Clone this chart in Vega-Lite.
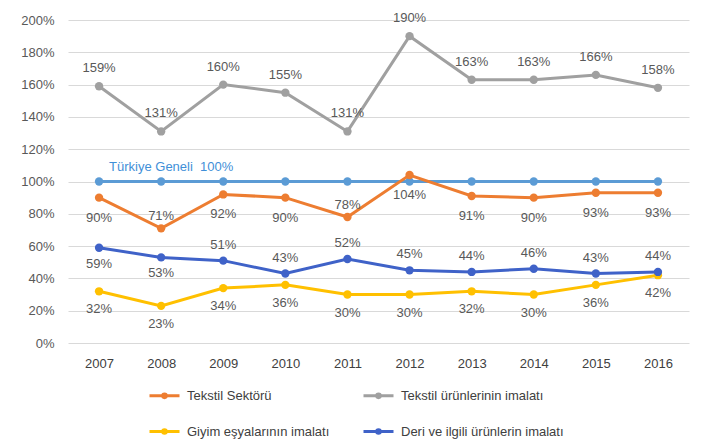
{
  "$schema": "https://vega.github.io/schema/vega-lite/v6.json",
  "width": 621,
  "height": 323,
  "padding": {"left": 20, "top": 12, "right": 10, "bottom": 5},
  "background": "white",
  "config": {
    "view": {"stroke": null},
    "font": "Liberation Sans",
    "axis": {"domain": false, "ticks": false, "labelColor": "#595959", "labelFontSize": 13, "gridColor": "#d9d9d9", "title": null},
    "text": {"font": "Liberation Sans", "fontSize": 13, "fill": "#595959"}
  },
  "datasets": {
    "series": [
      {"s": "Tekstil Sektörü", "year": "2007", "v": 90},
      {"s": "Tekstil Sektörü", "year": "2008", "v": 71},
      {"s": "Tekstil Sektörü", "year": "2009", "v": 92},
      {"s": "Tekstil Sektörü", "year": "2010", "v": 90},
      {"s": "Tekstil Sektörü", "year": "2011", "v": 78},
      {"s": "Tekstil Sektörü", "year": "2012", "v": 104},
      {"s": "Tekstil Sektörü", "year": "2013", "v": 91},
      {"s": "Tekstil Sektörü", "year": "2014", "v": 90},
      {"s": "Tekstil Sektörü", "year": "2015", "v": 93},
      {"s": "Tekstil Sektörü", "year": "2016", "v": 93},
      {"s": "Tekstil ürünlerinin imalatı", "year": "2007", "v": 159},
      {"s": "Tekstil ürünlerinin imalatı", "year": "2008", "v": 131},
      {"s": "Tekstil ürünlerinin imalatı", "year": "2009", "v": 160},
      {"s": "Tekstil ürünlerinin imalatı", "year": "2010", "v": 155},
      {"s": "Tekstil ürünlerinin imalatı", "year": "2011", "v": 131},
      {"s": "Tekstil ürünlerinin imalatı", "year": "2012", "v": 190},
      {"s": "Tekstil ürünlerinin imalatı", "year": "2013", "v": 163},
      {"s": "Tekstil ürünlerinin imalatı", "year": "2014", "v": 163},
      {"s": "Tekstil ürünlerinin imalatı", "year": "2015", "v": 166},
      {"s": "Tekstil ürünlerinin imalatı", "year": "2016", "v": 158},
      {"s": "Giyim eşyalarının imalatı", "year": "2007", "v": 32},
      {"s": "Giyim eşyalarının imalatı", "year": "2008", "v": 23},
      {"s": "Giyim eşyalarının imalatı", "year": "2009", "v": 34},
      {"s": "Giyim eşyalarının imalatı", "year": "2010", "v": 36},
      {"s": "Giyim eşyalarının imalatı", "year": "2011", "v": 30},
      {"s": "Giyim eşyalarının imalatı", "year": "2012", "v": 30},
      {"s": "Giyim eşyalarının imalatı", "year": "2013", "v": 32},
      {"s": "Giyim eşyalarının imalatı", "year": "2014", "v": 30},
      {"s": "Giyim eşyalarının imalatı", "year": "2015", "v": 36},
      {"s": "Giyim eşyalarının imalatı", "year": "2016", "v": 42},
      {"s": "Deri ve ilgili ürünlerin imalatı", "year": "2007", "v": 59},
      {"s": "Deri ve ilgili ürünlerin imalatı", "year": "2008", "v": 53},
      {"s": "Deri ve ilgili ürünlerin imalatı", "year": "2009", "v": 51},
      {"s": "Deri ve ilgili ürünlerin imalatı", "year": "2010", "v": 43},
      {"s": "Deri ve ilgili ürünlerin imalatı", "year": "2011", "v": 52},
      {"s": "Deri ve ilgili ürünlerin imalatı", "year": "2012", "v": 45},
      {"s": "Deri ve ilgili ürünlerin imalatı", "year": "2013", "v": 44},
      {"s": "Deri ve ilgili ürünlerin imalatı", "year": "2014", "v": 46},
      {"s": "Deri ve ilgili ürünlerin imalatı", "year": "2015", "v": 43},
      {"s": "Deri ve ilgili ürünlerin imalatı", "year": "2016", "v": 44}
    ],
    "tr": [
      {"year": "2007", "v": 100},
      {"year": "2008", "v": 100},
      {"year": "2009", "v": 100},
      {"year": "2010", "v": 100},
      {"year": "2011", "v": 100},
      {"year": "2012", "v": 100},
      {"year": "2013", "v": 100},
      {"year": "2014", "v": 100},
      {"year": "2015", "v": 100},
      {"year": "2016", "v": 100}
    ]
  },
  "encoding": {
    "x": {"field": "year", "type": "ordinal", "axis": {"grid": false, "labelAngle": 0, "labelFontSize": 13, "labelPadding": 14, "labelColor": "#404040"}},
    "y": {"field": "v", "type": "quantitative", "scale": {"domain": [0, 200]}, "axis": {"values": [0, 20, 40, 60, 80, 100, 120, 140, 160, 180, 200], "labelExpr": "datum.value + '%'", "labelPadding": 14}}
  },
  "layer": [
    {
      "data": {"name": "tr"},
      "mark": {"type": "line", "color": "#5B9BD5", "strokeWidth": 3, "point": {"filled": true, "size": 70, "color": "#5B9BD5"}}
    },
    {
      "data": {"name": "tr"},
      "transform": [{"filter": "datum.year == '2007'"}],
      "mark": {"type": "text", "text": "Türkiye Geneli\u00a0 100%", "align": "left", "dx": 10, "dy": -15, "fill": "#3F8FD8", "fontSize": 13}
    },
    {
      "data": {"name": "series"},
      "mark": {"type": "line", "strokeWidth": 3, "point": {"filled": true, "size": 70}},
      "encoding": {
        "color": {
          "field": "s", "type": "nominal",
          "scale": {
            "domain": ["Tekstil Sektörü", "Tekstil ürünlerinin imalatı", "Giyim eşyalarının imalatı", "Deri ve ilgili ürünlerin imalatı"],
            "range": ["#ED7D31", "#A0A0A0", "#FFC000", "#3F62C8"]
          },
          "legend": {
            "title": null, "orient": "none", "legendX": 80, "legendY": 359, "columns": 2, "direction": "horizontal",
            "symbolType": "M-1,0H-0.12A0.12,0.12 0 1,1 0.12,0A0.12,0.12 0 1,1 -0.12,0M0.12,0H1",
            "symbolSize": 900, "symbolStrokeWidth": 3,
            "labelFontSize": 13, "labelColor": "#404040", "labelOffset": 6, "labelLimit": 400, "columnPadding": 27, "rowPadding": 11,
            "encode": {"symbols": {"update": {"fill": {"scale": "color", "field": "value"}}}}
          }
        }
      }
    },
    {
      "data": {"name": "series"},
      "transform": [{"filter": "datum.s == 'Tekstil ürünlerinin imalatı'"}, {"calculate": "datum.v + '%'", "as": "lbl"}],
      "mark": {"type": "text", "dy": -18},
      "encoding": {"text": {"field": "lbl"}}
    },
    {
      "data": {"name": "series"},
      "transform": [{"filter": "datum.s == 'Tekstil Sektörü' && (datum.year == '2008' || datum.year == '2011')"}, {"calculate": "datum.v + '%'", "as": "lbl"}],
      "mark": {"type": "text", "dy": -12},
      "encoding": {"text": {"field": "lbl"}}
    },
    {
      "data": {"name": "series"},
      "transform": [{"filter": "datum.s == 'Tekstil Sektörü' && datum.year != '2008' && datum.year != '2011'"}, {"calculate": "datum.v + '%'", "as": "lbl"}],
      "mark": {"type": "text", "dy": 20},
      "encoding": {"text": {"field": "lbl"}}
    },
    {
      "data": {"name": "series"},
      "transform": [{"filter": "datum.s == 'Deri ve ilgili ürünlerin imalatı' && datum.year != '2007' && datum.year != '2008'"}, {"calculate": "datum.v + '%'", "as": "lbl"}],
      "mark": {"type": "text", "dy": -16},
      "encoding": {"text": {"field": "lbl"}}
    },
    {
      "data": {"name": "series"},
      "transform": [{"filter": "datum.s == 'Deri ve ilgili ürünlerin imalatı' && (datum.year == '2007' || datum.year == '2008')"}, {"calculate": "datum.v + '%'", "as": "lbl"}],
      "mark": {"type": "text", "dy": 16},
      "encoding": {"text": {"field": "lbl"}}
    },
    {
      "data": {"name": "series"},
      "transform": [{"filter": "datum.s == 'Giyim eşyalarının imalatı'"}, {"calculate": "datum.v + '%'", "as": "lbl"}],
      "mark": {"type": "text", "dy": 18},
      "encoding": {"text": {"field": "lbl"}}
    }
  ]
}
